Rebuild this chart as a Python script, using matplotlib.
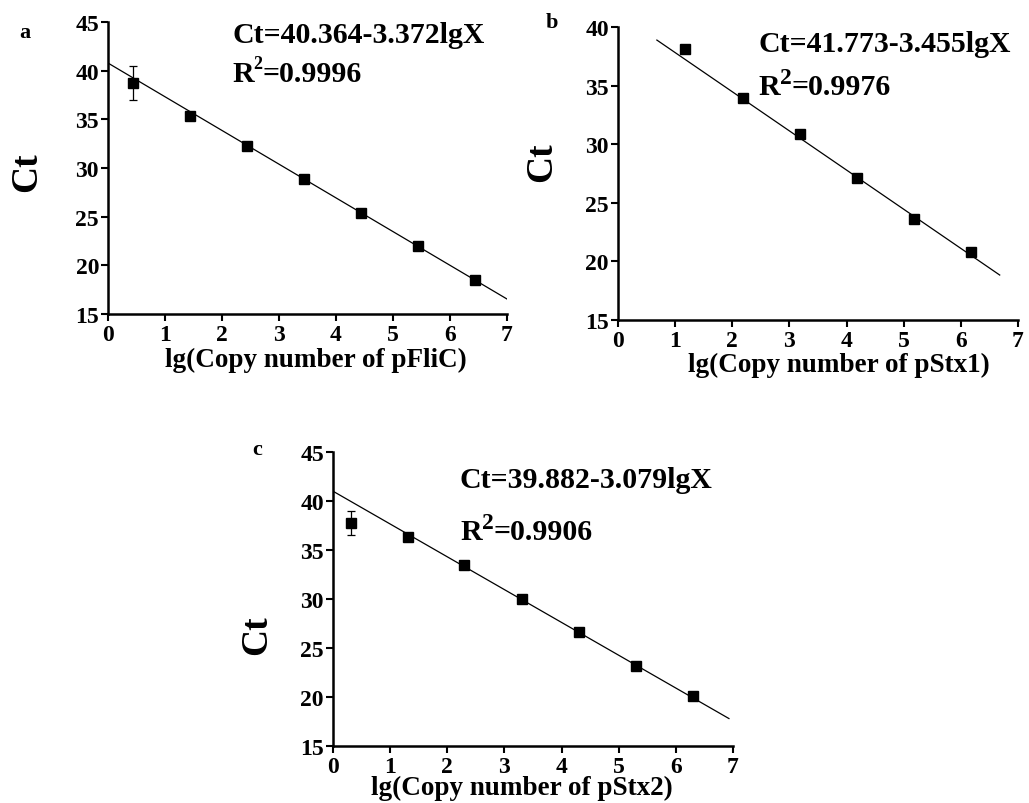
import numpy as np
import matplotlib
matplotlib.use('Agg')
import matplotlib.pyplot as plt

plt.rcParams['font.family'] = ['Liberation Serif', 'DejaVu Serif']
plt.rcParams['font.weight'] = 'bold'

# ---- data ----
# panel a : pFliC
a_x = [0.43, 1.43, 2.43, 3.43, 4.43, 5.43, 6.43]
a_ct = [38.76, 35.33, 32.3, 28.9, 25.4, 22.0, 18.5]
a_err = [1.75, 0.3, 0.0, 0.0, 0.0, 0.0, 0.0]
a_fit_x = [0.0, 7.0]
a_fit_y = [40.78, 16.54]

# panel b : pStx1
b_x = [1.18, 2.18, 3.18, 4.18, 5.18, 6.18]
b_ct = [38.1, 33.94, 30.9, 27.13, 23.63, 20.84]
b_err = [0.0, 0.0, 0.0, 0.0, 0.0, 0.0]
b_fit_x = [0.68, 6.68]
b_fit_y = [38.89, 18.84]

# panel c : pStx2
c_x = [0.32, 1.31, 2.30, 3.31, 4.31, 5.31, 6.30]
c_ct = [37.77, 36.3, 33.5, 29.96, 26.62, 23.18, 20.08]
c_err = [1.25, 0.0, 0.0, 0.0, 0.0, 0.0, 0.0]
c_fit_x = [0.0, 6.93]
c_fit_y = [41.0, 17.8]

fig = plt.figure(figsize=(10.29, 8.04), dpi=100)

panels = [
    dict(rect=[0.105, 0.6082, 0.3877, 0.3632], x=a_x, y=a_ct, err=a_err,
         fx=a_fit_x, fy=a_fit_y, ylim=(15, 45), yticks=range(15, 50, 5),
         xlabel='lg(Copy number of pFliC)', xl=(0.521, -0.155), yl=(-0.205, 0.49),
         eq='Ct=40.364-3.372lgX', eqpos=(0.311, 0.932), r2='=0.9996',
         r2pos=(0.311, 0.798), sup=13, sup_y=0.55, letter='a', lpos=(0.019, 0.953)),
    dict(rect=[0.6006, 0.6007, 0.3887, 0.3644], x=b_x, y=b_ct, err=b_err,
         fx=b_fit_x, fy=b_fit_y, ylim=(15, 40), yticks=range(15, 45, 5),
         xlabel='lg(Copy number of pStx1)', xl=(0.553, -0.152), yl=(-0.19, 0.543),
         eq='Ct=41.773-3.455lgX', eqpos=(0.35, 0.918), r2='=0.9976',
         r2pos=(0.35, 0.771), sup=17, sup_y=0.45, letter='b', lpos=(0.530, 0.965)),
    dict(rect=[0.3236, 0.0709, 0.3887, 0.3657], x=c_x, y=c_ct, err=c_err,
         fx=c_fit_x, fy=c_fit_y, ylim=(15, 45), yticks=range(15, 50, 5),
         xlabel='lg(Copy number of pStx2)', xl=(0.4725, -0.14), yl=(-0.19, 0.381),
         eq='Ct=39.882-3.079lgX', eqpos=(0.3175, 0.881), r2='=0.9906',
         r2pos=(0.3175, 0.704), sup=17, sup_y=0.45, letter='c', lpos=(0.245, 0.434)),
]

for p in panels:
    ax = fig.add_axes(p['rect'])
    ax.plot(p['fx'], p['fy'], color='black', linewidth=0.9)
    ax.errorbar(p['x'], p['y'], yerr=p['err'], fmt='s', color='black',
                markersize=7, elinewidth=0.9, capsize=3, capthick=0.9)

    ax.set_xlim(0, 7)
    ax.set_ylim(*p['ylim'])
    ax.set_xticks(range(0, 8))
    ax.set_yticks(list(p['yticks']))
    for s in ['top', 'right']:
        ax.spines[s].set_visible(False)
    for s in ['left', 'bottom']:
        ax.spines[s].set_linewidth(1.8)
    ax.tick_params(direction='out', length=5, width=1.5, labelsize=17)
    ax.tick_params(axis='y', pad=1.5)
    ax.tick_params(axis='x', pad=2)

    ax.set_xlabel(p['xlabel'], fontsize=19.5, fontweight='bold')
    ax.xaxis.label.set_verticalalignment('center')
    ax.xaxis.set_label_coords(*p['xl'])
    ax.set_ylabel('Ct', fontsize=27, fontweight='bold')
    ax.yaxis.label.set_verticalalignment('center')
    ax.yaxis.set_label_coords(*p['yl'])

    # equation and R^2
    ax.text(p['eqpos'][0], p['eqpos'][1], p['eq'], transform=ax.transAxes,
            fontsize=21.5, fontweight='bold', va='baseline', ha='left')
    tR = ax.text(p['r2pos'][0], p['r2pos'][1], 'R', transform=ax.transAxes,
                 fontsize=21.5, fontweight='bold', va='baseline', ha='left')
    t2 = ax.annotate('2', xy=(1.0, p['sup_y']), xycoords=tR,
                     fontsize=p['sup'], fontweight='bold', va='bottom', ha='left')
    ax.annotate(p['r2'], xy=(1.0, 0.0), xycoords=(t2, tR),
                fontsize=21.5, fontweight='bold', va='bottom', ha='left')

    fig.text(p['lpos'][0], p['lpos'][1], p['letter'], fontsize=16,
             fontweight='bold', va='baseline', ha='left')

fig.savefig('out.png', dpi=100)
